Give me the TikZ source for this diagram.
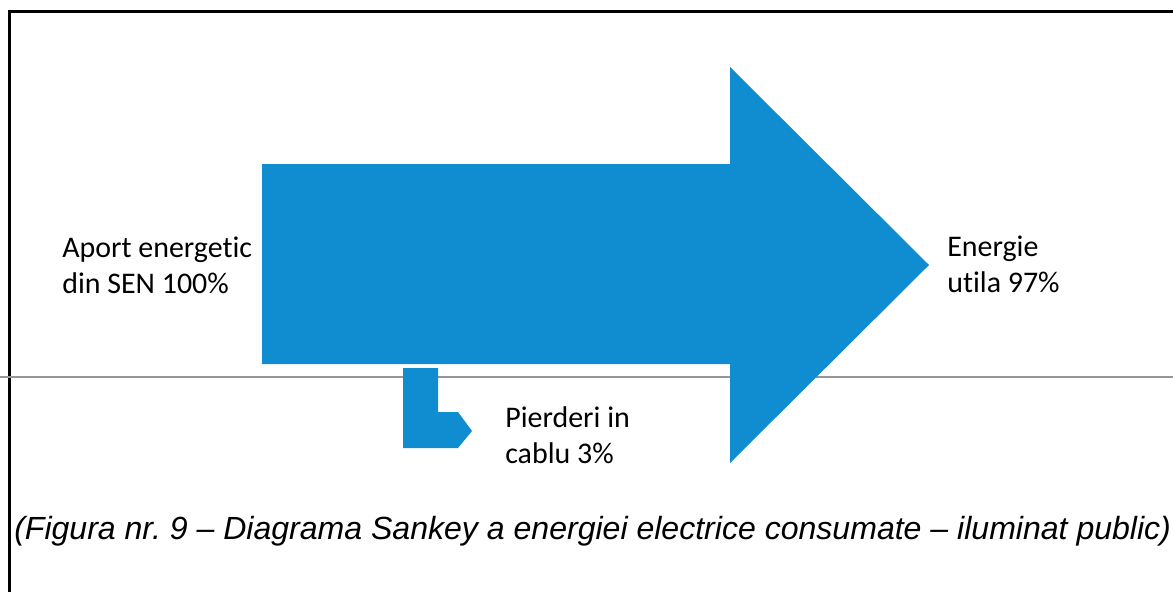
\documentclass[tikz,border=0pt]{standalone}
\usepackage{fontspec}
\setmainfont{Carlito}[Ligatures={TeX,NoCommon}]
\newfontfamily\capfont{Liberation Sans}
\usetikzlibrary{positioning}
\definecolor{flowblue}{RGB}{16,140,208}
\definecolor{rulegray}{RGB}{150,150,150}
\frenchspacing

\begin{document}
\begin{tikzpicture}[x=0.25mm,y=-0.25mm,
    flow/.style={fill=flowblue,draw=none},
    lbl/.style={inner sep=0pt,anchor=base west,align=left,
      font=\fontsize{21.3pt}{25.6pt}\selectfont},
    capt/.style={inner sep=0pt,anchor=base west,
      font=\capfont\itshape\fontsize{22.8pt}{26pt}\selectfont}]
            \useasboundingbox (0,0) rectangle (1173,592);
            \fill[white] (0,0) rectangle (1173,592);
            % frame and ruler line of the scanned page
            \draw[line width=0.75mm] (9,592) -- (9,11) -- (1173,11);
            \draw[rulegray,line width=0.35mm] (0,377) -- (1173,377);
            % main flow
            \fill[flow] (262,164) -- (730,164) -- (730,67) -- (929,265)
                -- (730,463) -- (730,364) -- (262,364) -- cycle;
            % loss in cable
            \fill[flow] (403,368) -- (438,368) -- (438,412) -- (458,412)
                -- (472,431) -- (458,448) -- (403,448) -- cycle;
            % labels (base = last line)
            \node[lbl] (input) at (62,293) {Aport energetic\\din SEN 100\%};
            \node[lbl] (useful) at (947,292) {Energie\\utila 97\%};
            \node[lbl] (loss) at (505,463) {Pierderi in\\cablu 3\%};
            \node[capt] (caption) at (14,539) {(Figura nr. 9 – Diagrama Sankey a energiei electrice consumate – iluminat public)};
        \end{tikzpicture}
\end{document}
